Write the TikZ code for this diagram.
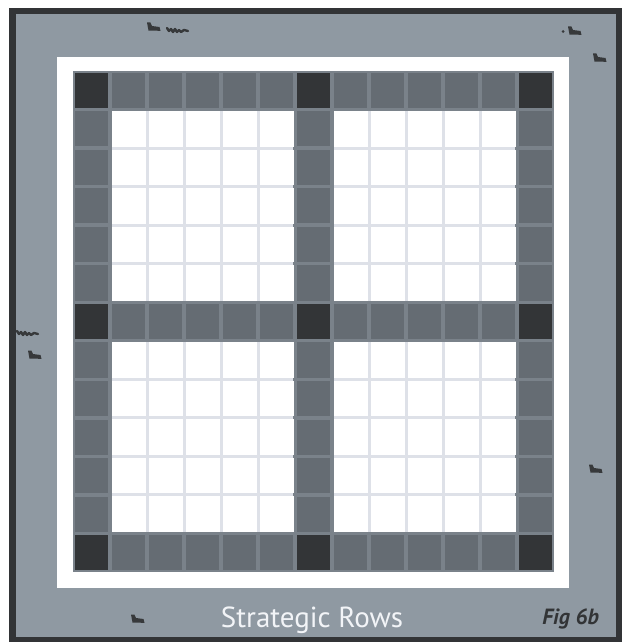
\documentclass[tikz,border=0pt]{standalone}
\usepackage{fontspec}
\setmainfont{PT Sans}
\definecolor{field}{RGB}{143,153,162}
\definecolor{framec}{RGB}{50,52,54}
\definecolor{gridc}{RGB}{122,130,138}
\definecolor{cellg}{RGB}{101,108,115}
\definecolor{celld}{RGB}{51,53,55}
\definecolor{linec}{RGB}{222,225,232}
\definecolor{textc}{RGB}{242,244,247}
\colorlet{markc}{framec!95!field}
\tikzset{
  x=1pt,y=-1pt,
  markA/.pic={\fill[markc] (0,-0.5) -- (3.4,-0.5) -- (5,3) -- (12.5,4) -- (13.5,7.8) -- (1.5,7.6) -- cycle;},
  markB/.pic={\draw[markc,line width=2.4pt,line cap=round,line join=round] (0,1) -- (2,4) -- (4,2) -- (6,5) -- (8,2) -- (10,5) -- (12,3) -- (14,5) -- (17,3) -- (21,4);},
  markdot/.style={fill=markc},
}
\begin{document}
\begin{tikzpicture}
\useasboundingbox (0,0) rectangle (627,642);
% outer frame and field
\fill[framec] (9,8) rectangle (622,642);
\fill[field] (16,14) rectangle (616,637);
% white mat
\fill[white] (57,57) rectangle (569,588);
% grid background
\fill[gridc] (73,71) rectangle (554,572);
% light line backgrounds for white blocks
\foreach \bi in {0,6}{
  \foreach \bj in {0,6}{
    \fill[linec] ({73+37*(\bi+1)+1.7},{71+38.54*(\bj+1)+1.7}) rectangle ({73+37*(\bi+6)-1.7},{71+38.54*(\bj+6)-1.7});
  }
}
% cells
\foreach \i in {0,...,12}{
  \foreach \j in {0,...,12}{
    \pgfmathtruncatemacro{\ia}{(\i==0)||(\i==6)||(\i==12)}
    \pgfmathtruncatemacro{\ja}{(\j==0)||(\j==6)||(\j==12)}
    \pgfmathtruncatemacro{\kind}{\ia+\ja}
    \ifcase\kind
      \def\cc{white}\def\ins{1.5}
    \or
      \def\cc{cellg}\def\ins{1.7}
    \or
      \def\cc{celld}\def\ins{1.7}
    \fi
    \fill[\cc] ({73+37*\i+\ins},{71+38.54*\j+\ins}) rectangle ({73+37*(\i+1)-\ins},{71+38.54*(\j+1)-\ins});
  }
}
% small marks
\pic at (147,23) {markA};
\pic at (167,27) {markB};
\fill[markdot] (563,31.5) circle (1.5);
\pic at (568,27) {markA};
\pic at (593,54) {markA};
\pic at (17,330) {markB};
\pic at (28,351) {markA};
\pic at (589,465) {markA};
\pic at (131,615) {markA};
% texts
\node[anchor=base,inner sep=0,text=textc,font=\fontsize{29}{32}\selectfont] (title) at (312,627) {Strategic Rows};
\node[anchor=base east,inner sep=0,text=framec,font=\fontsize{22}{25}\selectfont\bfseries\itshape] (fig) at (599,624) {Fig 6b};
\end{tikzpicture}
\end{document}
